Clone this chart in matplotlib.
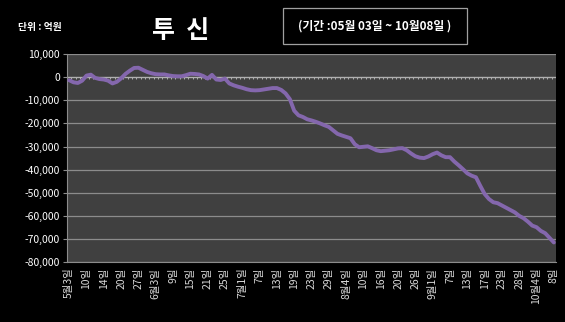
import matplotlib
matplotlib.use('Agg')
import matplotlib.pyplot as plt
import matplotlib.patches as patches
import numpy as np

plt.rcParams['font.family'] = ['Noto Sans CJK KR', 'DejaVu Sans']

# 투신 누적 순매수 (억원), 05/03 ~ 10/08 거래일
net_buy = [
    -1300, -2200, -2500, -1500, 700, 1100, -300, -800, -1000, -1500,
    -2700, -2000, -500, 1400, 2800, 4000, 4100, 3200, 2300, 1700,
    1300, 1200, 1200, 800, 500, 400, 400, 900, 1500, 1400,
    1200, 500, -600, 1000, -1000, -1200, -600, -2700, -3500, -4100,
    -4600, -5200, -5600, -5700, -5600, -5300, -5000, -4700, -4700, -5500,
    -7000, -9500, -14500, -16500, -17200, -18200, -18700, -19300, -20000, -20800,
    -21500, -23000, -24500, -25200, -25800, -26400, -29000, -30300, -30100, -29900,
    -30700, -31600, -32000, -31800, -31600, -31200, -30800, -30700, -31600, -33000,
    -34200, -34800, -35000, -34300, -33300, -32600, -33800, -34600, -34600, -36500,
    -38100, -39800, -41600, -42600, -43300, -47000, -50500, -52700, -54100, -54500,
    -55500, -56500, -57500, -58500, -60000, -61000, -62500, -64200, -64900, -66500,
    -67500, -69500, -71500,
]

date_labels = [
    '5월3일', '10일', '14일', '20일', '27일', '6월3일', '9일', '15일', '21일', '25일',
    '7월1일', '7일', '13일', '19일', '23일', '29일', '8월4일', '10일', '16일', '20일',
    '26일', '9월1일', '7일', '13일', '17일', '23일', '28일', '10월4일', '8일',
]
label_step = 4

y_ticks = list(range(10000, -80001, -10000))

fig = plt.figure(figsize=(5.65, 3.22), dpi=100, facecolor='black')
ax = fig.add_axes([0.1186, 0.186, 0.8655, 0.646])
ax.set_facecolor('#404040')

n = len(net_buy)
x = np.arange(n)

# gridlines
for v in y_ticks:
    ax.axhline(v, color='#8c8c8c', lw=0.9, zorder=1)

# category axis sits on the zero line, with tick marks between days
ax.axhline(0, color='#b0b0b0', lw=0.9, zorder=2)
ax.vlines(np.arange(n + 1) - 0.5, -700, 0, color='#b0b0b0', lw=0.7, zorder=2)

ax.plot(x, net_buy, color='#8467ad', lw=2.8, solid_capstyle='round',
        solid_joinstyle='round', zorder=3)

ax.set_xlim(-0.5, n - 0.5)
ax.set_ylim(-80000, 10000)

ax.set_yticks(y_ticks)
ax.set_yticklabels([f'{v:,}' for v in y_ticks])
ax.tick_params(axis='y', colors='#8c8c8c', labelcolor='white', labelsize=7.5,
               length=3, pad=2)

ax.set_xticks(x[::label_step])
ax.set_xticklabels(date_labels, rotation=90)
ax.tick_params(axis='x', length=0, labelcolor='#d8d8d8', labelsize=7.5, pad=4)

for side in ['top', 'right']:
    ax.spines[side].set_visible(False)
ax.spines['left'].set_color('#8c8c8c')
ax.spines['bottom'].set_color('#8c8c8c')

fig.text(0.032, 0.915, '단위 : 억원', color='white', fontsize=7, fontweight='bold',
         va='center')
fig.text(0.32, 0.905, '투  신', color='white', fontsize=18, fontweight='bold',
         ha='center', va='center')

box = patches.Rectangle((0.5, 0.862), 0.327, 0.113, transform=fig.transFigure,
                        fill=False, edgecolor='#a0a0a0', lw=0.9)
fig.patches.append(box)
fig.text(0.663, 0.918, '(기간 :05월 03일 ~ 10월08일 )', color='white', fontsize=8.5,
         fontweight='bold', ha='center', va='center')

fig.savefig('out.png', dpi=100, facecolor='black')
